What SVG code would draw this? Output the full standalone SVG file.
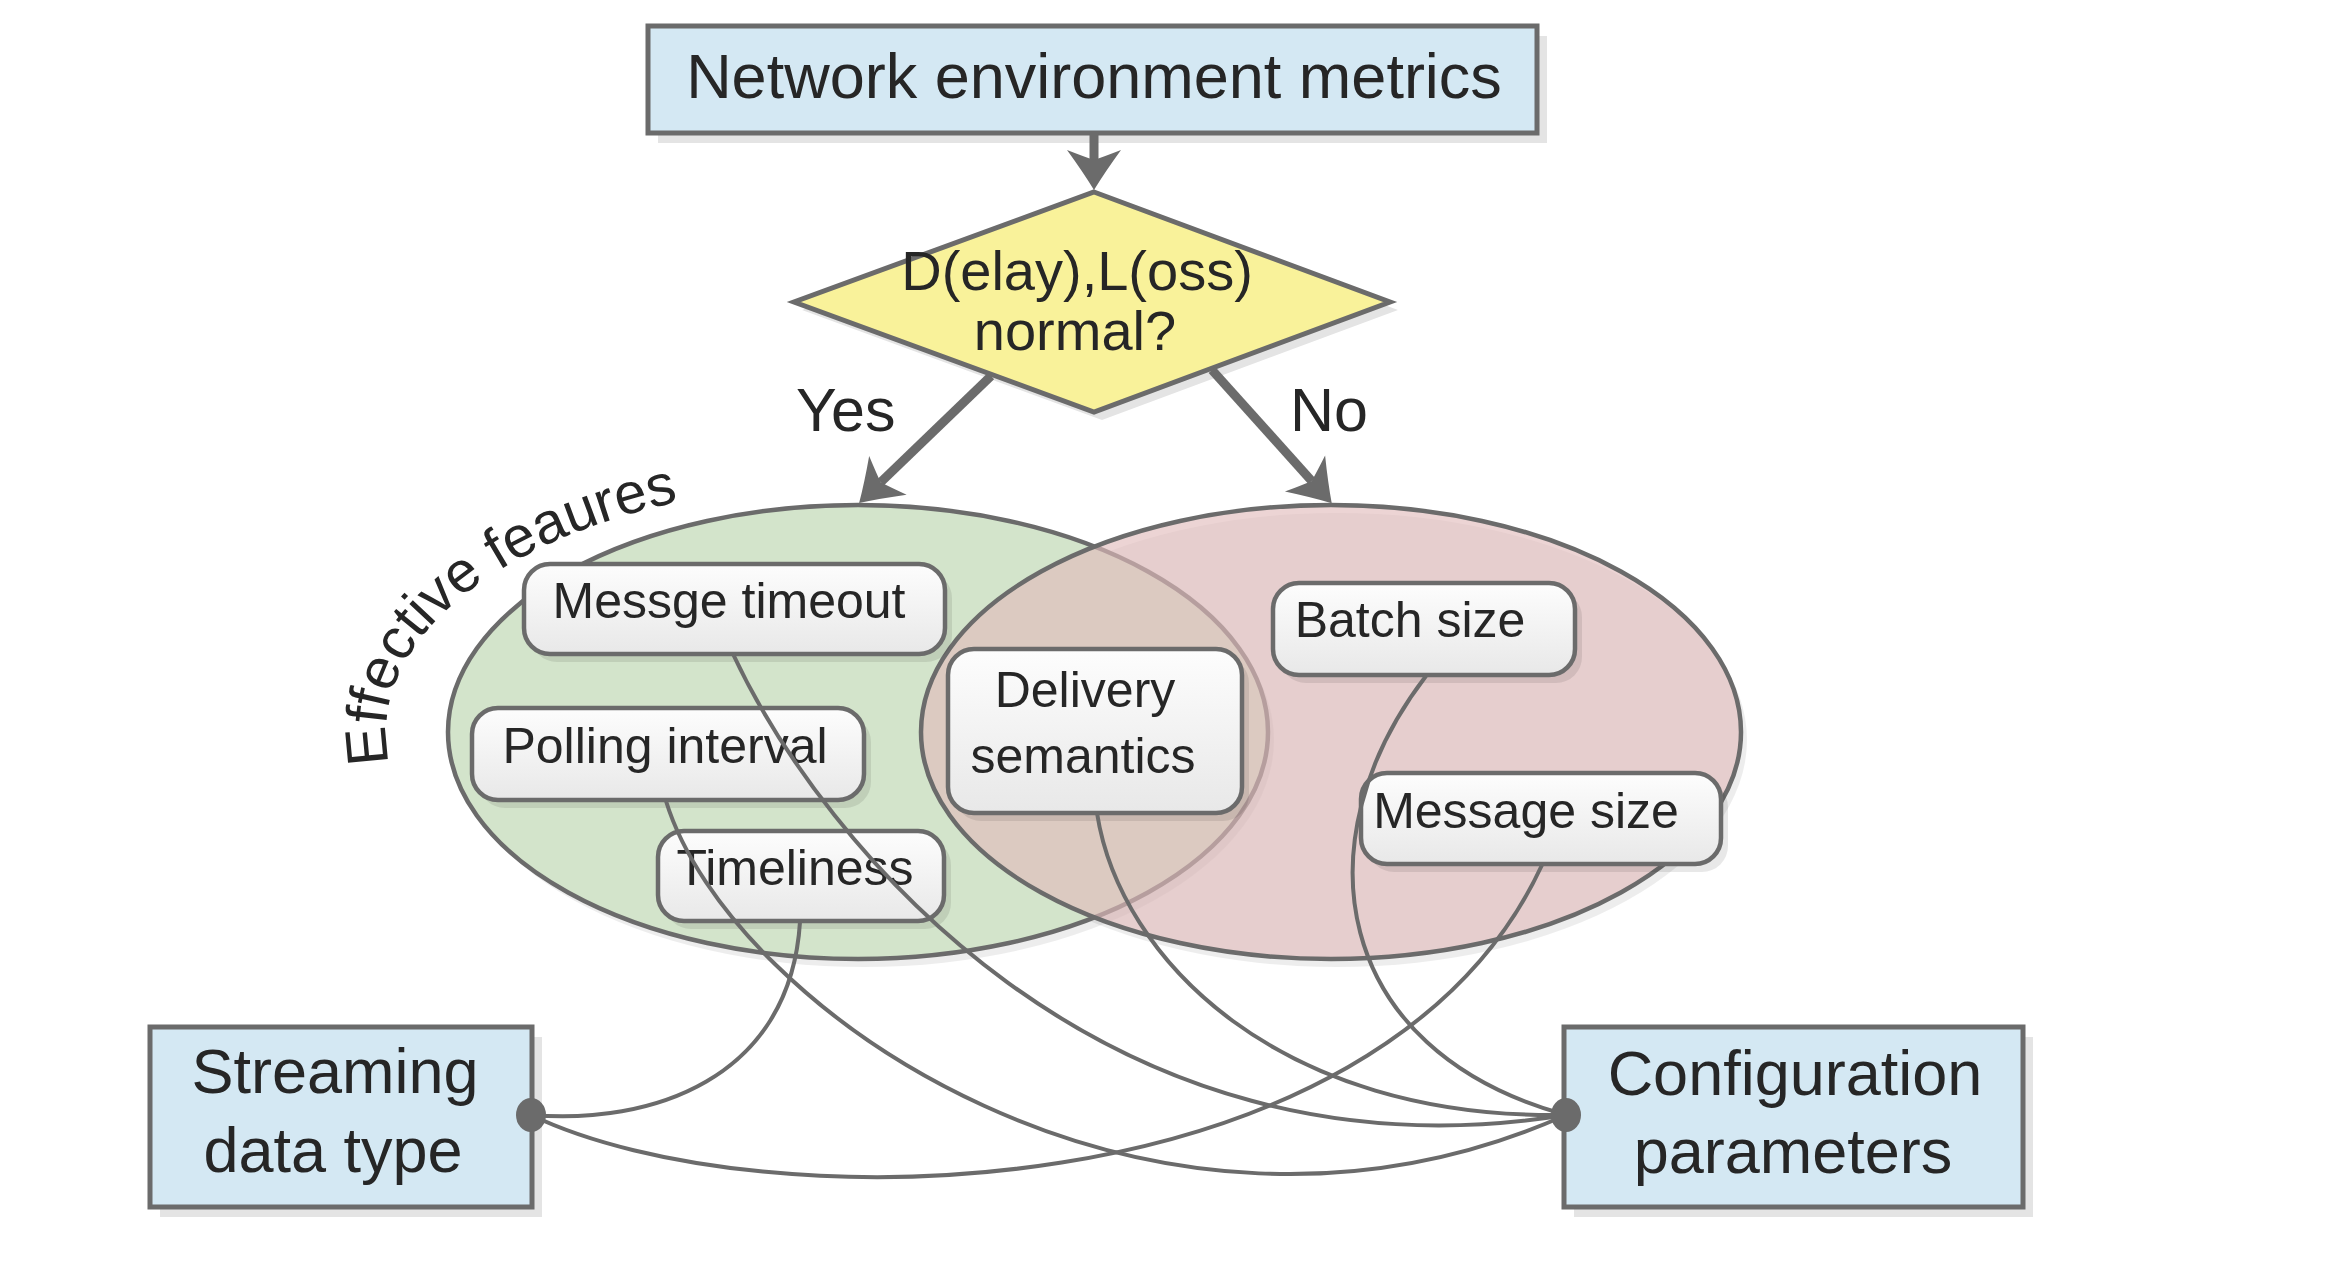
<svg xmlns="http://www.w3.org/2000/svg" width="2326" height="1286" viewBox="0 0 2326 1286">
<style>
.t{font-family:"Liberation Sans",Arial,sans-serif;fill:#262626;}
.big{font-size:63px;}
.mid{font-size:50px;}
.box{fill:#d4e8f3;stroke:#6b6b6b;stroke-width:5;}
.shd{fill:#e4e4e4;}
.feat{fill:url(#fg);stroke:#6b6b6b;stroke-width:4.5;}
.fshd{fill:#000;fill-opacity:0.09;}
.con{fill:none;stroke:#6b6b6b;stroke-width:4;}
.arr{fill:none;stroke:#6b6b6b;stroke-width:9;}
</style>
<defs>
<linearGradient id="fg" x1="0" y1="0" x2="0" y2="1">
<stop offset="0" stop-color="#fdfdfd"/>
<stop offset="1" stop-color="#e8e8e8"/>
</linearGradient>
<marker id="ah" markerUnits="userSpaceOnUse" markerWidth="90" markerHeight="90" viewBox="-45 -45 90 90" refX="0" refY="0" orient="auto" overflow="visible">
<path d="M30,0 Q12,-11 -10,-27 Q-3,-9 0,0 Q-3,9 -10,27 Q12,11 30,0 Z" fill="#6b6b6b"/>
</marker>
<path id="efp" d="M393,775 A472,249 0 0,1 800,485"/>
</defs>
<rect width="2326" height="1286" fill="#ffffff"/>

<g id="sets">
<ellipse cx="864" cy="740" rx="410" ry="227" fill="#000" fill-opacity="0.07"/>
<ellipse cx="1337" cy="740" rx="410" ry="227" fill="#000" fill-opacity="0.07"/>
<ellipse id="green-set" cx="858" cy="732" rx="410" ry="227" fill="#d3e4cb" stroke="#6b6b6b" stroke-width="4.5"/>
<ellipse id="pink-set" cx="1331" cy="732" rx="410" ry="227" fill="#e1bbbb" fill-opacity="0.64"/>
<ellipse cx="1331" cy="732" rx="410" ry="227" fill="none" stroke="#6b6b6b" stroke-width="4.5"/>
<text class="t" style="font-size:58px"><textPath href="#efp" startOffset="12">Effective feaures</textPath></text>
</g>

<g id="network-metrics">
<rect class="shd" x="658" y="36" width="889" height="107"/>
<rect class="box" x="648" y="26" width="889" height="107"/>
<text class="t big" x="1094" y="98" text-anchor="middle">Network environment metrics</text>
</g>

<g id="decision">
<polygon points="1102,200 1398,310 1102,420 802,310" fill="#e4e4e4"/>
<polygon points="1094,192 1390,302 1094,412 794,302" fill="#f9f29a" stroke="#6b6b6b" stroke-width="5" stroke-linejoin="miter"/>
<text class="t" style="font-size:56px" x="1077" y="290" text-anchor="middle">D(elay),L(oss)</text>
<text class="t" style="font-size:56px" x="1075" y="350" text-anchor="middle">normal?</text>
</g>

<g id="messge-timeout">
<rect class="fshd" x="531" y="572" width="421" height="90" rx="26"/>
<rect class="feat" x="524" y="564" width="421" height="90" rx="26"/>
<text class="t mid" x="729" y="618" text-anchor="middle">Messge timeout</text>
</g>
<g id="polling-interval">
<rect class="fshd" x="479" y="716" width="392" height="92" rx="26"/>
<rect class="feat" x="472" y="708" width="392" height="92" rx="26"/>
<text class="t mid" x="665" y="763" text-anchor="middle">Polling interval</text>
</g>
<g id="timeliness">
<rect class="fshd" x="665" y="839" width="286" height="90" rx="26"/>
<rect class="feat" x="658" y="831" width="286" height="90" rx="26"/>
<text class="t mid" x="795" y="885" text-anchor="middle">Timeliness</text>
</g>
<g id="delivery-semantics">
<rect class="fshd" x="955" y="657" width="294" height="164" rx="26"/>
<rect class="feat" x="948" y="649" width="294" height="164" rx="26"/>
<text class="t mid" x="1085" y="707" text-anchor="middle">Delivery</text>
<text class="t mid" x="1083" y="773" text-anchor="middle">semantics</text>
</g>
<g id="batch-size">
<rect class="fshd" x="1280" y="591" width="302" height="92" rx="26"/>
<rect class="feat" x="1273" y="583" width="302" height="92" rx="26"/>
<text class="t mid" x="1410" y="637" text-anchor="middle">Batch size</text>
</g>
<g id="message-size">
<rect class="fshd" x="1368" y="781" width="360" height="91" rx="26"/>
<rect class="feat" x="1361" y="773" width="360" height="91" rx="26"/>
<text class="t mid" x="1526" y="828" text-anchor="middle">Message size</text>
</g>

<g id="streaming-data-type">
<rect class="shd" x="160" y="1037" width="382" height="180"/>
<rect class="box" x="150" y="1027" width="382" height="180"/>
<text class="t big" x="335" y="1093" text-anchor="middle">Streaming</text>
<text class="t big" x="333" y="1172" text-anchor="middle">data type</text>
</g>
<g id="configuration-parameters">
<rect class="shd" x="1574" y="1037" width="459" height="180"/>
<rect class="box" x="1564" y="1027" width="459" height="180"/>
<text class="t big" x="1795" y="1095" text-anchor="middle">Configuration</text>
<text class="t big" x="1793" y="1173" text-anchor="middle">parameters</text>
</g>

<g id="connectors">
<path class="arr" d="M1094,133 L1094,160" marker-end="url(#ah)"/>
<path class="arr" d="M991,376 L880.7,482.3" marker-end="url(#ah)"/>
<path class="arr" d="M1212,370 L1311.7,481" marker-end="url(#ah)"/>
<text class="t" style="font-size:61px" x="796" y="431">Yes</text>
<text class="t" style="font-size:61px" x="1290" y="431">No</text>
<path class="con" d="M531,1115 C650,1125 790,1080 800,922"/>
<path class="con" d="M531,1115 C760,1225 1380,1215 1542,865"/>
<path class="con" d="M733,654 C820,840 1100,1190 1566,1115"/>
<path class="con" d="M666,801 C730,1010 1150,1300 1566,1115"/>
<path class="con" d="M1097,813 C1120,960 1280,1120 1566,1115"/>
<path class="con" d="M1426,676 C1300,840 1330,1050 1566,1115"/>
<ellipse cx="531" cy="1115" rx="15" ry="17" fill="#6b6b6b"/>
<ellipse cx="1566" cy="1115" rx="15" ry="17" fill="#6b6b6b"/>
</g>
</svg>
